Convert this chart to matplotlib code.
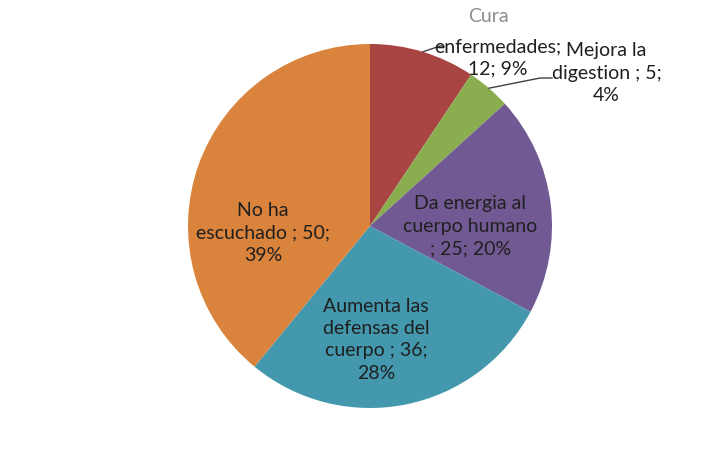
import matplotlib
matplotlib.use("Agg")
import matplotlib.pyplot as plt
import numpy as np

plt.rcParams['font.family'] = ['Lato', 'DejaVu Sans']

# survey answers, drawn clockwise from the top
categories = ["Cura enfermedades", "Mejora la digestion", "Da energia al cuerpo humano",
              "Aumenta las defensas del cuerpo", "No ha escuchado"]
counts = [12, 5, 25, 36, 50]
colors = ["#A84543", "#8AAD4F", "#715A94", "#4398AE", "#DA833D"]

total = sum(counts)
pcts = [round(100 * c / total) for c in counts]
labels = [
    "enfermedades;\n%d; %d%%" % (counts[0], pcts[0]),
    "Mejora la\ndigestion ; %d;\n%d%%" % (counts[1], pcts[1]),
    "Da energia al\ncuerpo humano\n; %d; %d%%" % (counts[2], pcts[2]),
    "Aumenta las\ndefensas del\ncuerpo ; %d;\n%d%%" % (counts[3], pcts[3]),
    "No ha\nescuchado ; %d;\n%d%%" % (counts[4], pcts[4]),
]

# label anchor points in units of the radius
label_pos = [(0.70, 0.93), (1.30, 0.845), (0.55, 0.005), (0.033, -0.62), (-0.588, -0.033)]

W, H = 713, 452
cx, cy, R = 370, 227, 182

fig = plt.figure(figsize=(W / 100, H / 100), dpi=100)
ax = fig.add_axes([0, 0, 1, 1])

wedges, _ = ax.pie(counts, colors=colors, startangle=90, counterclock=False,
                   radius=1, wedgeprops=dict(linewidth=0))
ax.set_xlim(-cx / R, (W - cx) / R)
ax.set_ylim(-(H - cy) / R, cy / R)
ax.axis('off')

txt = "#1f1f1f"
for lab, (lx, ly) in zip(labels, label_pos):
    ax.text(lx, ly, lab, ha='center', va='center', fontsize=14,
            color=txt, linespacing=1.38)

# first line of the top label, lighter
ax.text(0.65, 1.155, "Cura", ha='center', va='center', fontsize=14, color="#8c8c8c")

# leader lines for the two small slices
ends = [[(0.385, 0.989), (0.405, 0.989)], [(0.934, 0.813), (1.0, 0.813)]]
for w, pts in zip(wedges[:2], ends):
    mid = np.deg2rad((w.theta1 + w.theta2) / 2)
    xs = [np.cos(mid)] + [p[0] for p in pts]
    ys = [np.sin(mid)] + [p[1] for p in pts]
    ax.plot(xs, ys, color="#404040", lw=1)

fig.savefig("out.png", dpi=100, facecolor="white")
